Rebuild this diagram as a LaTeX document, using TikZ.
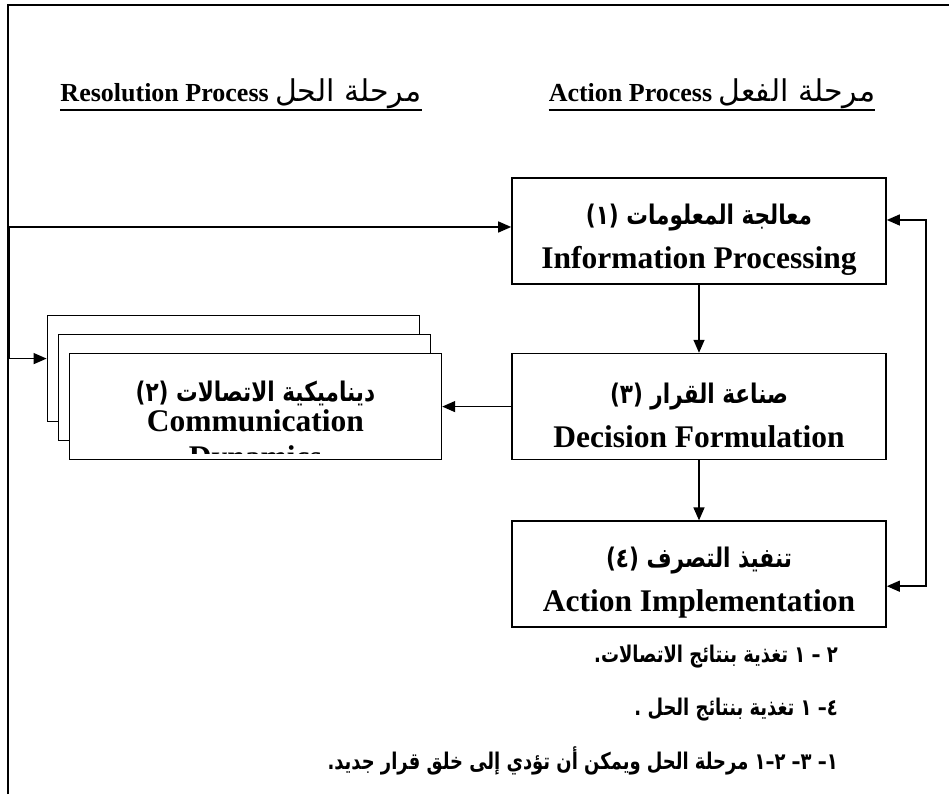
\documentclass[tikz,border=0pt]{standalone}
\usepackage{fontspec}
\setmainfont{Liberation Serif}
\newfontfamily\arabicfont[Script=Arabic]{DejaVu Sans}
\newfontfamily\arabicnarrow[Script=Arabic, FakeStretch=0.8]{DejaVu Sans}
\newfontfamily\arabicnotes[Script=Arabic, FakeStretch=0.78]{DejaVu Sans}
\TeXXeTstate=1
\usetikzlibrary{positioning, arrows.meta, calc, shadows}
\newcommand{\artext}[1]{{\arabicfont\beginR #1\endR}}
\newcommand{\arline}[1]{{\arabicnarrow\fontsize{27}{30}\selectfont\bfseries\rule{0pt}{38pt}\beginR #1\endR}}
\tikzset{
  stage/.style={rectangle, minimum width=374pt, minimum height=106pt, text centered, align=center, draw=black, line width=1.6pt, fill=white, inner sep=0pt, font=\fontsize{31.5}{44}\selectfont\bfseries},
  arrow/.style={line width=1.4pt, ->, >={Triangle[length=13pt,width=11pt]}},
  heading/.style={anchor=base, inner sep=0pt, font=\fontsize{26}{30}\selectfont\bfseries},
  note/.style={anchor=base east, inner sep=0pt, font=\arabicnotes\fontsize{23}{26}\selectfont\bfseries}
}

\begin{document}
\begin{tikzpicture}[x=1pt, y=1pt]
        \useasboundingbox (0,0) rectangle (949,794);

        % Marco
        \draw[line width=2.2pt] (8,0) -- (8,789) -- (949,789);

        % Titulos
        \node (resolhead) [heading] at (241,692) {Resolution Process {\mdseries\fontsize{30}{32}\selectfont\artext{مرحلة الحل}}};
        \node (actionhead) [heading] at (712,692) {Action Process {\mdseries\fontsize{30}{32}\selectfont\artext{مرحلة  الفعل}}};
        \draw[line width=2.5pt] ([yshift=-8pt]resolhead.base west) -- ([yshift=-8pt]resolhead.base east);
        \draw[line width=2.5pt] ([yshift=-8pt]actionhead.base west) -- ([yshift=-8pt]actionhead.base east);

        % Etapas
        \node (info) [stage] at (699,563) {\arline{معالجة المعلومات (١)}\\ Information Processing};
        \node (decision) [stage, below=68pt of info] {\arline{صناعة القرار (٣)}\\ Decision Formulation};
        \node (action) [stage, below=60pt of decision] {\arline{تنفيذ التصرف (٤)}\\ Action Implementation};
        \node (comm) [stage, left=69pt of decision, minimum width=372pt,
            copy shadow={shadow xshift=-22pt, shadow yshift=38pt, line width=1.6pt},
            copy shadow={shadow xshift=-11pt, shadow yshift=19pt, line width=1.6pt}] {};

        % Texto recortado de la caja de comunicacion
        \begin{scope}
            \clip ([yshift=7pt]comm.south west) rectangle (comm.north east);
            \node (commar) [anchor=base] at ([yshift=-49pt]comm.north) {\arline{ديناميكية الاتصالات (٢)}};
            \node (commen) [anchor=base, font=\fontsize{31.5}{44}\selectfont\bfseries] at ([yshift=-79pt]comm.north) {Communication};
            \node (commcut) [anchor=base, font=\fontsize{31.5}{44}\selectfont\bfseries] at ([yshift=-115pt]comm.north) {Dynamics};
        \end{scope}
        \coordinate (stackin) at ([xshift=-22pt, yshift=48pt]comm.west);

        % Flechas
        \draw [arrow] (info) -- (decision);
        \draw [arrow] (decision) -- (action);
        \draw [arrow] (decision) -- (comm);
        \draw [arrow, <->] ([yshift=-12pt]action.east) -- ++(39,0) |- ([yshift=11pt]info.east);
        \draw [arrow, <->] (stackin) -- ++(-37,0) |- ([yshift=4pt]info.west);

        % Notas
        \node (note1) [note] at (838,131) {\beginR ٢ – ١ تغذية بنتائج الاتصالات.\endR};
        \node (note2) [note] at (838,78) {\beginR ٤– ١ تغذية بنتائج الحل .\endR};
        \node (note3) [note] at (838,24) {\beginR ١– ٣– ٢–١ مرحلة الحل ويمكن أن تؤدي إلى خلق قرار جديد.\endR};

    \end{tikzpicture}
\end{document}
